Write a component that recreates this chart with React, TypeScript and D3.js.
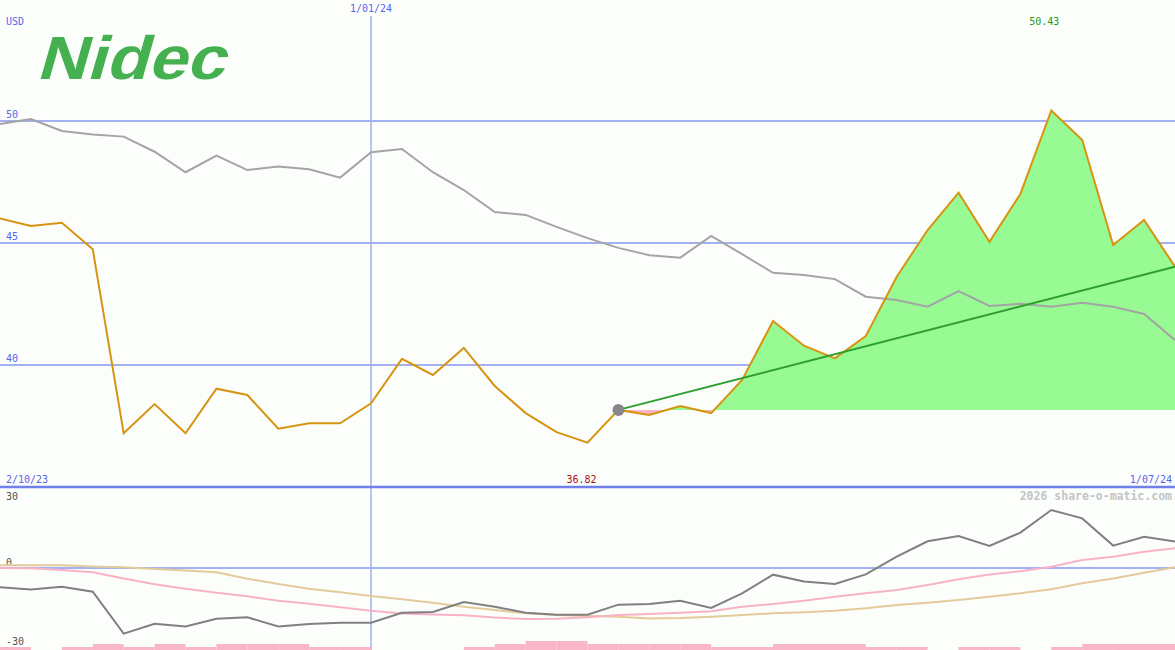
import React from "react";
import * as d3 from "d3";

const W = 1175;
const H = 650;

// weekly closing prices (USD), 2/10/23 .. 1/07/24
const price = [46.01, 45.7, 45.83, 44.74, 37.2, 38.4, 37.2, 39.03, 38.77, 37.39, 37.61, 37.61, 38.43, 40.25, 39.59, 40.7, 39.14, 38.03, 37.25, 36.82, 38.16, 37.95, 38.32, 38.03, 39.39, 41.8, 40.79, 40.27, 41.19, 43.62, 45.53, 47.06, 45.05, 47.01, 50.43, 49.22, 44.92, 45.94, 44.03];
// moving average (gray)
const average = [49.88, 50.08, 49.59, 49.45, 49.36, 48.74, 47.9, 48.58, 47.99, 48.13, 48.02, 47.68, 48.72, 48.85, 47.9, 47.17, 46.27, 46.15, 45.66, 45.2, 44.8, 44.5, 44.4, 45.29, 44.54, 43.78, 43.69, 43.52, 42.8, 42.66, 42.39, 43.03, 42.42, 42.51, 42.39, 42.55, 42.39, 42.09, 41.02];
// lower panel oscillators
const momentum = [-7.2, -8.1, -7.0, -8.9, -24.6, -20.9, -21.9, -19.0, -18.5, -21.9, -21.0, -20.5, -20.5, -16.8, -16.5, -12.75, -14.5, -16.8, -17.5, -17.5, -13.75, -13.5, -12.25, -15.0, -9.5, -2.5, -5.1, -6.0, -2.4, 4.25, 10.0, 12.0, 8.25, 13.25, 21.75, 18.6, 8.4, 11.75, 9.9];
const signalFast = [0, -0.1, -0.75, -1.6, -3.9, -6.1, -7.75, -9.25, -10.6, -12.25, -13.4, -14.75, -16.0, -17.1, -17.4, -17.75, -18.6, -19.1, -19.0, -18.5, -17.6, -17.25, -16.75, -16.25, -14.5, -13.5, -12.25, -10.75, -9.5, -8.25, -6.4, -4.25, -2.4, -1.25, 0.5, 3.0, 4.25, 6.1, 7.4];
const signalSlow = [1.0, 1.0, 1.0, 0.6, 0.25, -0.4, -0.9, -1.6, -4.0, -6.0, -7.75, -9.1, -10.5, -11.75, -13.0, -14.5, -15.75, -17.0, -17.6, -18.0, -18.25, -18.9, -18.75, -18.25, -17.6, -17.0, -16.6, -16.0, -15.1, -13.9, -13.0, -12.0, -10.75, -9.5, -8.0, -5.75, -3.9, -1.75, 0.25];
// volume level per week interval
const volume = [1, 0, 1, 2, 1, 2, 1, 2, 2, 2, 1, 1, 0, 0, 0, 1, 2, 3, 3, 2, 2, 2, 2, 1, 1, 2, 2, 2, 1, 1, 0, 1, 1, 0, 1, 2, 2, 2];

const priceTicks = [50, 45, 40];
const oscTicks = [30, 0, -30];
const dateLabels = ["2/10/23", "1/01/24", "1/07/24"];
const dateLabelIndex = [0, 12, 38];
const trendStart = 20;
const trendValues = [38.16, 44.03];

const FONT = "'DejaVu Sans Mono', monospace";

export default function App() {
  const x = d3.scaleLinear().domain([0, price.length - 1]).range([0, W]);
  const y = d3.scaleLinear().domain([40, 50]).range([365, 121]);
  const yl = d3.scaleLinear().domain([-30, 30]).range([648, 488]);
  const yv = d3.scaleLinear().domain([0, 3]).range([650, 641]);

  const line = (vals: number[], sy: any) =>
    d3.line<number>().x((_, i) => x(i)).y((v) => sy(v))(vals) || "";

  const base = price[trendStart];
  const seg = price.slice(trendStart);
  const area = d3
    .area<number>()
    .x((_, i) => x(i + trendStart))
    .y0(y(base))
    .y1((v) => y(v))(seg) || "";

  const vIdx = dateLabelIndex[1];
  const maxI = price.indexOf(d3.max(price)!);
  const minI = price.indexOf(d3.min(price)!);

  return (
    <svg
      width={W}
      height={H}
      style={{ position: "absolute", left: 0, top: 0, background: "#fcfefc" }}
      fontFamily={FONT}
    >
      <defs>
        <clipPath id="above">
          <rect x={0} y={0} width={W} height={y(base)} />
        </clipPath>
        <clipPath id="below">
          <rect x={0} y={y(base)} width={W} height={H} />
        </clipPath>
      </defs>
      <rect x={0} y={0} width={W} height={H} fill="#fcfefc" />

      {/* logo */}
      <g transform="translate(36,79) skewX(-16)">
        <text
          x={0}
          y={0}
          fontFamily="'Liberation Sans', Arial, sans-serif"
          fontWeight="bold"
          fontSize={61}
          fill="#45b04f"
          textLength={188}
          lengthAdjust="spacingAndGlyphs"
        >
          Nidec
        </text>
      </g>

      {/* grid */}
      {priceTicks.map((t) => (
        <g key={t}>
          <line x1={0} x2={W} y1={y(t)} y2={y(t)} stroke="#a3b1f2" strokeWidth={2} />
          <text x={6} y={y(t) - 3} fontSize={10} fill="#5566ee">{t}</text>
        </g>
      ))}
      <line x1={x(vIdx)} x2={x(vIdx)} y1={16} y2={H} stroke="#a3b1f2" strokeWidth={1.5} />
      <text x={x(vIdx)} y={12} fontSize={10} fill="#5566ee" textAnchor="middle">{dateLabels[1]}</text>
      <text x={6} y={25} fontSize={10} fill="#5566ee">USD</text>

      {/* fills */}
      <path d={area} fill="#98fa92" clipPath="url(#above)" />
      <path d={area} fill="#fab4c6" clipPath="url(#below)" />

      {/* average */}
      <path d={line(average, y)} fill="none" stroke="#a4a4a4" strokeWidth={2} />
      {/* price */}
      <path d={line(price, y)} fill="none" stroke="#d69410" strokeWidth={2} />
      {/* trend */}
      <line
        x1={x(trendStart)}
        y1={y(trendValues[0])}
        x2={x(price.length - 1)}
        y2={y(trendValues[1])}
        stroke="#2e9e2e"
        strokeWidth={2}
      />
      <circle cx={x(trendStart)} cy={y(trendValues[0])} r={6} fill="#888888" />

      {/* max / min labels */}
      <text x={x(maxI) - 7} y={25} fontSize={10} fill="#229922" textAnchor="middle">{d3.max(price)!.toFixed(2)}</text>
      <text x={x(minI) - 6} y={483} fontSize={10} fill="#aa1111" textAnchor="middle">{d3.min(price)!.toFixed(2)}</text>
      <text x={6} y={483} fontSize={10} fill="#5566ee">{dateLabels[0]}</text>
      <text x={W - 3} y={483} fontSize={10} fill="#5566ee" textAnchor="end">{dateLabels[2]}</text>

      {/* separator */}
      <line x1={0} x2={W} y1={487} y2={487} stroke="#6f80ea" strokeWidth={2.5} />

      {/* lower panel */}
      <line x1={0} x2={W} y1={yl(0)} y2={yl(0)} stroke="#a3b1f2" strokeWidth={2} />
      {volume.map((v, i) =>
        v > 0 ? (
          <rect key={i} x={x(i)} y={yv(v)} width={x(i + 1) - x(i)} height={650 - yv(v)} fill="#f9b6c8" />
        ) : null
      )}
      <text x={6} y={500} fontSize={10} fill="#555555">{oscTicks[0]}</text>
      <text x={6} y={566} fontSize={10} fill="#555555">{oscTicks[1]}</text>
      <text x={6} y={645} fontSize={10} fill="#555555">{oscTicks[2]}</text>
      <text x={W - 3} y={500} fontSize={11.5} fill="#c4c4c4" fontWeight="bold" textAnchor="end">2026 share-o-matic.com</text>

      <path d={line(signalSlow, yl)} fill="none" stroke="#e3cb9c" strokeWidth={2} />
      <path d={line(signalFast, yl)} fill="none" stroke="#f8b2c6" strokeWidth={2} />
      <path d={line(momentum, yl)} fill="none" stroke="#808080" strokeWidth={2} />
    </svg>
  );
}
